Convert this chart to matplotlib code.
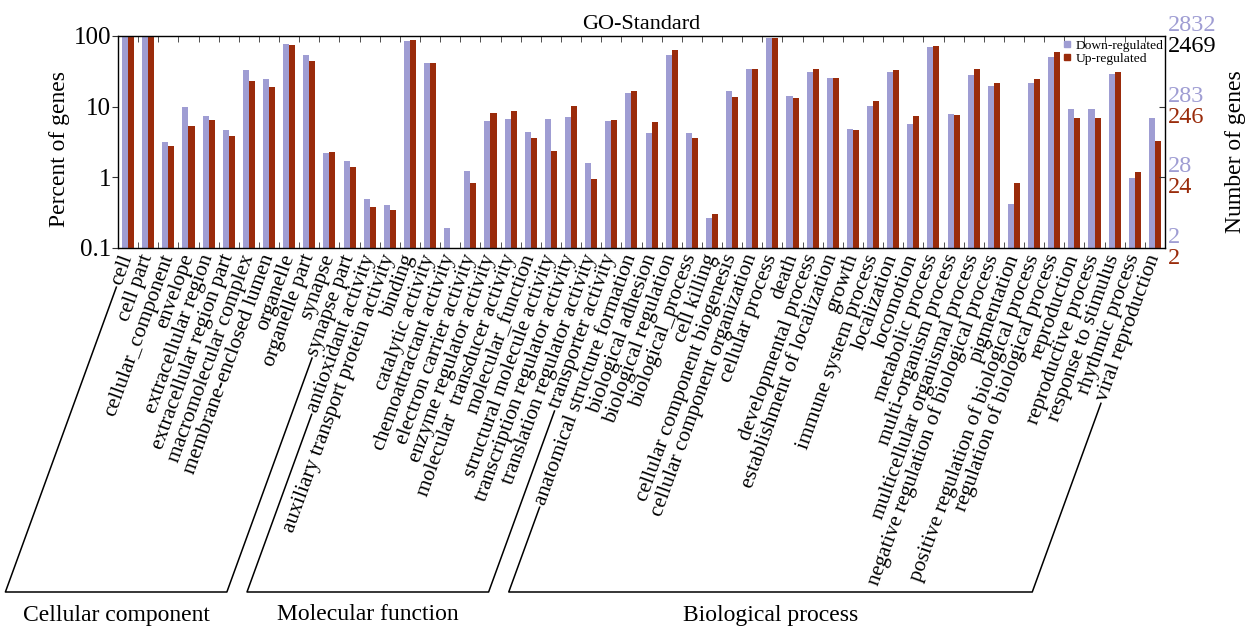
#!/usr/bin/env python3
import numpy as np
import matplotlib
matplotlib.use("Agg")
import matplotlib.pyplot as plt
from matplotlib.lines import Line2D
from matplotlib.ticker import NullLocator

plt.rcParams["font.family"] = ["Liberation Serif", "DejaVu Serif"]

categories = [
    # cellular component
    "cell", "cell part", "cellular_component", "envelope", "extracellular region",
    "extracellular region part", "macromolecular complex", "membrane-enclosed lumen",
    "organelle", "organelle part", "synapse", "synapse part",
    # molecular function
    "antioxidant activity", "auxiliary transport protein activity", "binding",
    "catalytic activity", "chemoattractant activity", "electron carrier activity",
    "enzyme regulator activity", "molecular  transducer activity", "molecular_function",
    "structural molecule activity", "transcription regulator activity",
    "translation regulator activity", "transporter activity",
    # biological process
    "anatomical structure formation", "biological adhesion", "biological regulation",
    "biological_process", "cell killing", "cellular component biogenesis",
    "cellular component organization", "cellular process", "death",
    "developmental process", "establishment of localization", "growth",
    "immune system process", "localization", "locomotion", "metabolic process",
    "multi-organism process", "multicellular organismal process",
    "negative regulation of biological process", "pigmentation",
    "positive regulation of biological process", "regulation of biological process",
    "reproduction", "reproductive process", "response to stimulus",
    "rhythmic process", "viral reproduction",
]

down_pct = [
    100, 100, 3.2, 9.8, 7.4, 4.6, 33, 25, 78, 53, 2.2, 1.7,
    0.49, 0.41, 85, 42, 0.19, 1.24, 6.3, 6.7, 4.4, 6.8, 7.1, 1.6, 6.2,
    15.6, 4.3, 53, 4.2, 0.27, 16.5, 34.5, 93, 14.3, 30.6, 25.2, 4.9, 10.3, 31,
    5.6, 71, 8.0, 28.4, 19.6, 0.42, 21.6, 50.5, 9.4, 9.4, 29, 0.97, 7.0,
]
up_pct = [
    100, 100, 2.8, 5.3, 6.5, 3.85, 23.3, 19.2, 74.6, 44.8, 2.26, 1.42,
    0.385, 0.34, 88.7, 41, 0, 0.82, 8.05, 8.8, 3.56, 2.36, 10.1, 0.94, 6.48,
    16.5, 6.07, 63.4, 3.6, 0.306, 13.7, 33.7, 93, 13.4, 34.1, 25.7, 4.73, 12.2, 33,
    7.3, 71.4, 7.7, 34.1, 21.9, 0.83, 24.4, 59.4, 6.9, 6.9, 30.6, 1.18, 3.3,
]

# (name, first category index, last category index)
groups = [
    ("Cellular component", 0, 11),
    ("Molecular function", 12, 24),
    ("Biological process", 25, 51),
]

pct_ticks = [0.1, 1, 10, 100]
pct_tick_labels = ["0.1", "1", "10", "100"]
down_counts = ["2", "28", "283", "2832"]
up_counts = ["2", "24", "246", "2469"]

DOWN = "#9f9dd3"
UP = "#9a2b0b"
ROT = 70


def main():
    fig = plt.figure(figsize=(12.5, 6.3), dpi=100)
    ax = fig.add_axes([118 / 1250, 1 - 248 / 630, 1047 / 1250, 212 / 630])
    ax.set_yscale("log", nonpositive="clip")

    x = np.arange(len(categories))
    w = 0.3
    ax.bar(x - w / 2, down_pct, w, color=DOWN, label="Down-regulated")
    ax.bar(x + w / 2, up_pct, w, color=UP, label="Up-regulated")

    ax.set_ylim(0.1, 100)
    ax.set_xlim(-0.5, len(categories) - 0.5)

    ax.set_yticks(pct_ticks)
    ax.set_yticklabels(pct_tick_labels, fontsize=18)
    ax.yaxis.set_minor_locator(NullLocator())
    ax.tick_params(axis="y", direction="out", length=4, pad=1, color="#333333")

    ax.set_xticks(x)
    ax.set_xticklabels(categories, rotation=ROT, ha="right", va="center",
                       rotation_mode="anchor", fontsize=15.5)
    ax.tick_params(axis="x", which="major", length=0, pad=5)
    ax.set_xticks(x[:-1] + 0.5, minor=True)
    ax.tick_params(axis="x", which="minor", direction="in", top=True, bottom=True,
                   length=4, color="#333333")
    for sp in ax.spines.values():
        sp.set_color("#333333")
        sp.set_linewidth(1.0)

    # right-hand ticks (inward) on a twin axis
    ax2 = ax.twinx()
    ax2.set_yscale("log")
    ax2.set_ylim(0.1, 100)
    ax2.set_yticks([1, 10])
    ax2.yaxis.set_minor_locator(NullLocator())
    ax2.tick_params(axis="y", direction="in", length=4, labelright=False, color="#333333")

    ytr = ax.get_yaxis_transform()
    for lvl, dc, uc in zip(pct_ticks, down_counts, up_counts):
        ax.text(1.003, lvl, dc, transform=ytr, color=DOWN, fontsize=17.5,
                ha="left", va="bottom", clip_on=False)
        ax.text(1.003, lvl, uc, transform=ytr, color="black" if lvl == 100 else UP,
                fontsize=17.5, ha="left", va="top", clip_on=False)

    ax.set_title("GO-Standard", fontsize=16, pad=5)
    fig.text(59 / 1250, 1 - 149 / 630, "Percent of genes", rotation=90,
             ha="center", va="center", fontsize=17)
    fig.text(1236 / 1250, 1 - 152 / 630, "Number of genes", rotation=90,
             ha="center", va="center", fontsize=17)

    handles = [
        Line2D([], [], marker="s", ls="", color=DOWN, markersize=4.5, label="Down-regulated"),
        Line2D([], [], marker="s", ls="", color=UP, markersize=4.5, label="Up-regulated"),
    ]
    ax.legend(handles=handles, loc="upper right", bbox_to_anchor=(1.0, 0.99),
              frameon=False, fontsize=9.7, handlelength=0.5, handletextpad=0.4,
              borderaxespad=0.0, labelspacing=0.05, borderpad=0.1)

    # group brackets following the label direction
    fig.canvas.draw()
    renderer = fig.canvas.get_renderer()
    labels = ax.get_xticklabels()
    ang = np.deg2rad(ROT)
    direc = np.array([np.cos(ang), np.sin(ang)])
    y_base = 38.0  # display px from the bottom

    def leg_points(i):
        lab = labels[i]
        anchor = np.array(lab.get_transform().transform(lab.get_position()))
        tw, _, _ = renderer.get_text_width_height_descent(
            lab.get_text(), lab.get_fontproperties(), ismath=False)
        start = anchor - (tw + 3) * direc
        t = (start[1] - y_base) / direc[1]
        end = start - t * direc
        return start, end

    inv = fig.transFigure.inverted()
    for name, i0, i1 in groups:
        s0, e0 = leg_points(i0)
        s1, e1 = leg_points(i1)
        pts = inv.transform(np.array([s0, e0, e1, s1]))
        fig.add_artist(Line2D(pts[:, 0], pts[:, 1], color="black", lw=1.1))
        xc = (pts[1, 0] + pts[2, 0]) / 2
        fig.text(xc, 15 / 630, name, ha="center", va="center", fontsize=17)

    fig.savefig("out.png", dpi=100)


if __name__ == "__main__":
    main()
